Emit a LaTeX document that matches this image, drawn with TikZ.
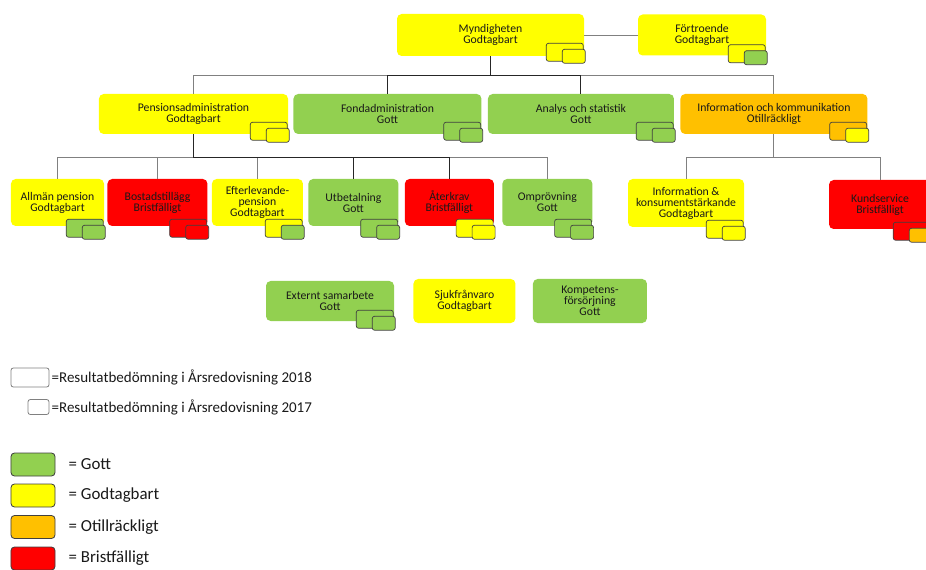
\documentclass[tikz,border=0pt]{standalone}
\usepackage{fontspec}
\setmainfont{Carlito}
\usepackage{tikz}
\usetikzlibrary{positioning,calc}
\usepackage{xcolor}
\definecolor{gott}{HTML}{92D050}
\definecolor{godtag}{HTML}{FFFF00}
\definecolor{otill}{HTML}{FFC000}
\definecolor{brist}{HTML}{FF0000}

\begin{document}
\begin{tikzpicture}[
    x=0.03cm, y=-0.03cm,
    every node/.style={font=\fontsize{10}{9.4}\selectfont, align=center, text=black!90},
    box/.style={rounded corners=4pt, inner sep=1pt},
    badge/.style={draw=black!75, line width=0.6pt, rounded corners=2pt},
    conn/.style={draw=black!50, line width=0.8pt},
    trunk/.style={draw=black!85, line width=0.8pt},
    legbox/.style={draw=black!50, line width=0.7pt, rounded corners=2pt},
    colbox/.style={draw=black!75, line width=0.7pt, rounded corners=3pt, minimum width=1.32cm, minimum height=0.69cm},
    legtext/.style={inner sep=0pt}
  ]
  \useasboundingbox (0,0) rectangle (926,570);

  % Nodes
  \node[box, fill=godtag, minimum width=5.61cm, minimum height=1.26cm] (myn) at (490.5,35) {Myndigheten\\Godtagbart};
  \node[box, fill=godtag, minimum width=3.84cm, minimum height=1.23cm] (fort) at (702,35) {Förtroende\\Godtagbart};

  \node[box, fill=godtag, minimum width=5.67cm, minimum height=1.2cm] (pens) at (193.5,114) {Pensionsadministration\\Godtagbart};
  \node[box, fill=gott, minimum width=5.64cm, minimum height=1.2cm, right=0.15cm of pens] (fond) {Fondadministration\\Gott};
  \node[box, fill=gott, minimum width=5.58cm, minimum height=1.2cm, right=0.18cm of fond] (anal) {Analys och statistik\\Gott};
  \node[box, fill=otill, minimum width=5.61cm, minimum height=1.2cm, right=0.18cm of anal] (info) {Information och kommunikation\\Otillräckligt};

  \node[box, fill=godtag, minimum width=2.79cm, minimum height=1.41cm] (allm) at (57.5,202.5) {Allmän pension\\Godtagbart};
  \node[box, fill=brist, minimum width=3cm, minimum height=1.41cm, right=0.09cm of allm] (bost) {Bostadstillägg\\Bristfälligt};
  \node[box, fill=godtag, minimum width=2.73cm, minimum height=1.41cm, right=0.12cm of bost] (efter) {Efterlevande-\\pension\\Godtagbart};
  \node[box, fill=gott, minimum width=2.7cm, minimum height=1.41cm, right=0.15cm of efter] (utb) {Utbetalning\\Gott};
  \node[box, fill=brist, minimum width=2.67cm, minimum height=1.41cm, right=0.18cm of utb] (ater) {Återkrav\\Bristfälligt};
  \node[box, fill=gott, minimum width=2.7cm, minimum height=1.41cm, right=0.24cm of ater] (ompr) {Omprövning\\Gott};

  \node[box, fill=godtag, minimum width=3.48cm, minimum height=1.44cm] (ikons) at (686,203) {Information \&\\konsumentstärkande\\Godtagbart};
  \node[box, fill=brist, minimum width=3.06cm, minimum height=1.47cm] (kund) at (880,204.5) {Kundservice\\Bristfälligt};

  \node[box, fill=gott, minimum width=3.84cm, minimum height=1.2cm] (ext) at (330,301) {Externt samarbete\\Gott};
  \node[box, fill=godtag, minimum width=3.06cm, minimum height=1.32cm, right=0.57cm of ext] (sjuk) {Sjukfrånvaro\\Godtagbart};
  \node[box, fill=gott, minimum width=3.42cm, minimum height=1.32cm, right=0.51cm of sjuk] (komp) {Kompetens-\\försörjning\\Gott};

  % Edges for myn
  \draw[conn] (myn.east) -- (fort.west);
  \draw[conn] (myn.south) -- ++(0,19) -| (pens.north);
  \draw[conn] (myn.south) -- ++(0,19) -| (info.north);
  \draw[trunk] (myn.south) -- ++(0,19) -| (fond.north);
  \draw[trunk] (myn.south) -- ++(0,19) -| (anal.north);

  % Edges for pens
  \draw[conn] (pens.south) -- ++(0,23) -| (allm.north);
  \draw[conn] (pens.south) -- ++(0,23) -| (bost.north);
  \draw[conn] (pens.south) -- ++(0,23) -| (efter.north);
  \draw[conn] (pens.south) -- ++(0,23) -| (ompr.north);
  \draw[trunk] (pens.south) -- ++(0,23) -| (utb.north);
  \draw[trunk] (pens.south) -- ++(0,23) -| (ater.north);

  % Edges for info
  \draw[conn] (info.south) -- ++(0,23) -| (ikons.north);
  \draw[conn] (info.south) -- ++(0,23) -| (kund.north);

  % Badges: 2018 behind, 2017 in front
  \foreach \n/\a/\b/\d in {myn/godtag/godtag/0, fort/godtag/gott/2, pens/godtag/godtag/1,
      fond/gott/gott/1, anal/gott/gott/1, info/otill/godtag/1, allm/gott/gott/6,
      bost/brist/brist/6, efter/godtag/gott/6, utb/gott/gott/6, ater/godtag/godtag/6,
      ompr/gott/gott/6, ikons/godtag/godtag/6, kund/brist/otill/6, ext/gott/gott/2}{
    \draw[badge, fill=\a] ($(\n.south east)+(-38,{-13+\d})$) rectangle ++(37,18);
    \draw[badge, fill=\b] ($(\n.south east)+(-22,{-7+\d})$) rectangle ++(23,14);
  }

  % Legend
  \node[legbox, minimum width=1.14cm, minimum height=0.57cm] (y18) at (30,377.5) {};
  \node[legtext, font=\fontsize{12.8}{14}\selectfont, right=0.06cm of y18] (t18) {=Resultatbedömning i Årsredovisning 2018};
  \node[legbox, minimum width=0.63cm, minimum height=0.45cm] (y17) at (38.5,407) {};
  \node[legtext, font=\fontsize{12.8}{14}\selectfont, right=0.06cm of y17] (t17) {=Resultatbedömning i Årsredovisning 2017};

  \node[colbox, fill=gott] (cgott) at (33,464.5) {};
  \node[colbox, fill=godtag] (cgodtag) at (33,495.5) {};
  \node[colbox, fill=otill] (cotill) at (33,527) {};
  \node[colbox, fill=brist] (cbrist) at (33,558.5) {};
  \node[legtext, font=\fontsize{14.4}{16}\selectfont, right=0.39cm of cgott] (tgott) {= Gott};
  \node[legtext, font=\fontsize{14.4}{16}\selectfont, right=0.39cm of cgodtag] (tgodtag) {= Godtagbart};
  \node[legtext, font=\fontsize{14.4}{16}\selectfont, right=0.39cm of cotill] (totill) {= Otillräckligt};
  \node[legtext, font=\fontsize{14.4}{16}\selectfont, right=0.39cm of cbrist] (tbrist) {= Bristfälligt};

\end{tikzpicture}
\end{document}
